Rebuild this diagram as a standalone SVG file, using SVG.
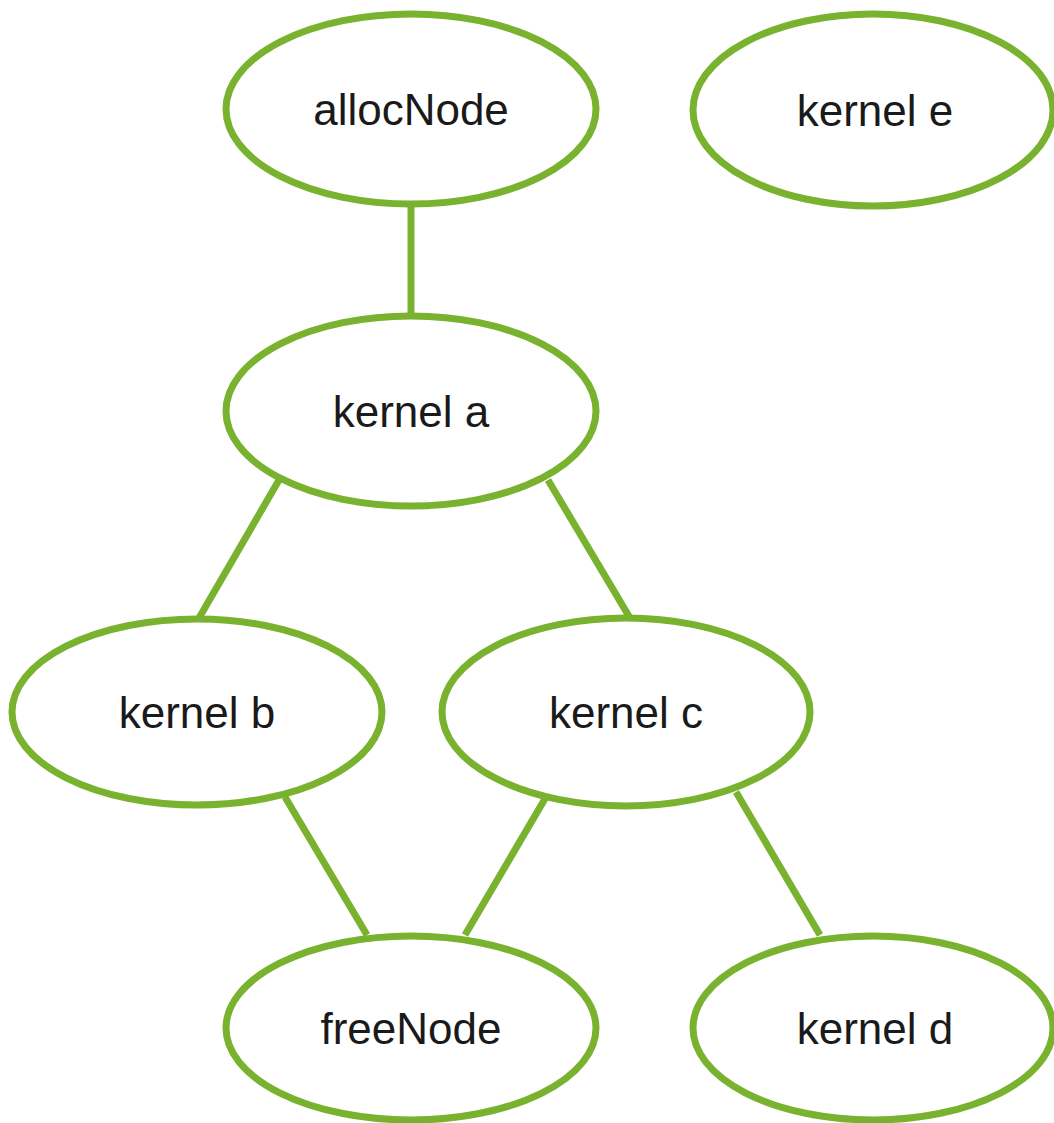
<svg xmlns="http://www.w3.org/2000/svg" width="1054" height="1123" viewBox="0 0 1054 1123">
<style>
.node ellipse{fill:#ffffff;stroke:#78b22e;stroke-width:7}
.node text{font-family:"Liberation Sans",Arial,sans-serif;font-size:44px;fill:#1a1a1a;text-anchor:middle}
.edges line{stroke:#78b22e;stroke-width:7;stroke-linecap:butt}
</style>
<rect width="1054" height="1123" fill="#ffffff"/>
<g id="edges" class="edges">
<line x1="411" y1="205" x2="411" y2="316"/>
<line x1="279" y1="480" x2="199" y2="618"/>
<line x1="548" y1="480" x2="630" y2="618"/>
<line x1="285" y1="797" x2="367" y2="935"/>
<line x1="546" y1="797" x2="465" y2="935"/>
<line x1="736" y1="792" x2="820" y2="935"/>
</g>
<g id="allocNode" class="node"><ellipse cx="411" cy="109" rx="185" ry="95"/><text x="411" y="125">allocNode</text></g>
<g id="kernelE" class="node"><ellipse cx="873" cy="110" rx="180" ry="96"/><text x="875" y="126">kernel e</text></g>
<g id="kernelA" class="node"><ellipse cx="411" cy="411" rx="185" ry="95"/><text x="411" y="427">kernel a</text></g>
<g id="kernelB" class="node"><ellipse cx="197" cy="712" rx="185" ry="93"/><text x="197" y="728">kernel b</text></g>
<g id="kernelC" class="node"><ellipse cx="626" cy="712" rx="184" ry="94"/><text x="626" y="728">kernel c</text></g>
<g id="freeNode" class="node"><ellipse cx="411" cy="1028" rx="185" ry="92"/><text x="411" y="1044">freeNode</text></g>
<g id="kernelD" class="node"><ellipse cx="873" cy="1028" rx="180" ry="92"/><text x="875" y="1044">kernel d</text></g>
</svg>
